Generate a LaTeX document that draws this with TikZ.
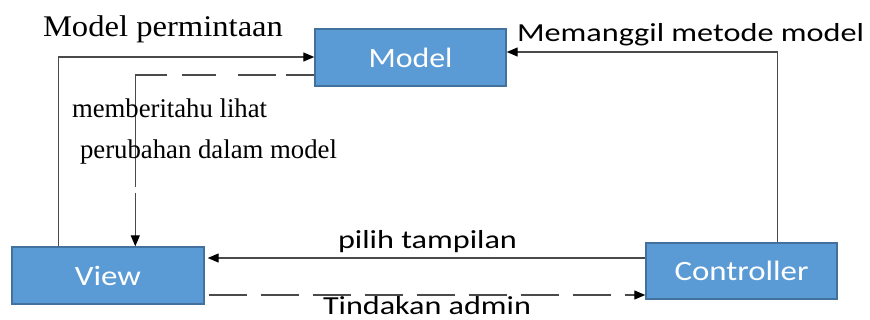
\documentclass[tikz,border=0pt]{standalone}
\usepackage{fontspec}
\usepackage{graphicx}
\setmainfont{Liberation Serif}
\newfontfamily\calib{Carlito}
\usetikzlibrary{arrows.meta}

% text of a given width, natural height
\newcommand\fitw[2]{\resizebox{#1}{\height}{#2}}

\definecolor{boxfill}{HTML}{5B9BD5}
\definecolor{boxline}{HTML}{41719C}
\definecolor{wire}{HTML}{4A4A4A}

\tikzset{
  block/.style={draw=boxline, line width=1.4pt, fill=boxfill, text=white,
    inner sep=0pt, anchor=center},
  wireline/.style={draw=wire, line width=1.3pt},
  tipped/.style={wireline, -{Triangle[length=11pt,width=9pt,color=black]}},
  dashA/.style={dash pattern=on 28pt off 10pt on 38pt off 22pt on 34pt off 15pt on 144pt off 6pt on 80pt},
  dashB/.style={dash pattern=on 38pt off 14pt},
  lbl/.style={anchor=base west, inner sep=0pt, outer sep=0pt},
}

\begin{document}
\begin{tikzpicture}[x=1pt, y=-1pt]
  \useasboundingbox (0,0) rectangle (870,320);
  \fill[white] (0,0) rectangle (870,320);

  % the three blocks
  \node[block, minimum width=191pt, minimum height=57pt] (model) at (410.5,57.5)
    {\fitw{84pt}{\calib\fontsize{28}{32}\selectfont Model}};
  \node[block, minimum width=192pt, minimum height=57pt] (view) at (108,275.5)
    {\fitw{66pt}{\calib\fontsize{28}{32}\selectfont View}};
  \node[block, minimum width=191pt, minimum height=56pt] (ctrl) at (741.5,271)
    {\fitw{134pt}{\calib\fontsize{28}{32}\selectfont Controller}};

  % View -> Model : request
  \draw[tipped] ([xshift=47pt]view.north west) |- ([yshift=0.5pt]model.west);
  % Model -> View : notification (dashed)
  \draw[tipped, dashA] ([yshift=-17.5pt]model.west) -| ([xshift=124pt]view.north west);
  % Controller -> Model : method call
  \draw[tipped] ([xshift=132pt]ctrl.north west) |- ([yshift=5.5pt]model.east);
  % Controller -> View : select view
  \draw[tipped, shorten >=3pt] ([yshift=13pt]ctrl.west) -- ([yshift=13pt]ctrl.west -| view.east);
  % View -> Controller : admin action (dashed)
  \draw[tipped, dashB, shorten <=4pt] ([yshift=-19.5pt]view.east) -- ([yshift=-19.5pt]view.east -| ctrl.west);

  % labels
  \node[lbl] (tReq) at (43,37)
    {\fitw{240pt}{\fontsize{30}{34}\selectfont Model permintaan}};
  \node[lbl] (tNot1) at (72,118)
    {\fitw{195pt}{\fontsize{27}{31}\selectfont memberitahu lihat}};
  \node[lbl] (tNot2) at (80,159)
    {\fitw{257pt}{\fontsize{27}{31}\selectfont perubahan dalam model}};
  \node[lbl] (tCall) at (517,42)
    {\fitw{347pt}{\calib\fontsize{26}{30}\selectfont Memanggil metode model}};
  \node[lbl] (tSel) at (338,249)
    {\fitw{179pt}{\calib\fontsize{26}{30}\selectfont pilih tampilan}};
  \node[lbl] (tAct) at (323,315)
    {\fitw{208pt}{\calib\fontsize{26}{30}\selectfont Tindakan admin}};
\end{tikzpicture}
\end{document}
